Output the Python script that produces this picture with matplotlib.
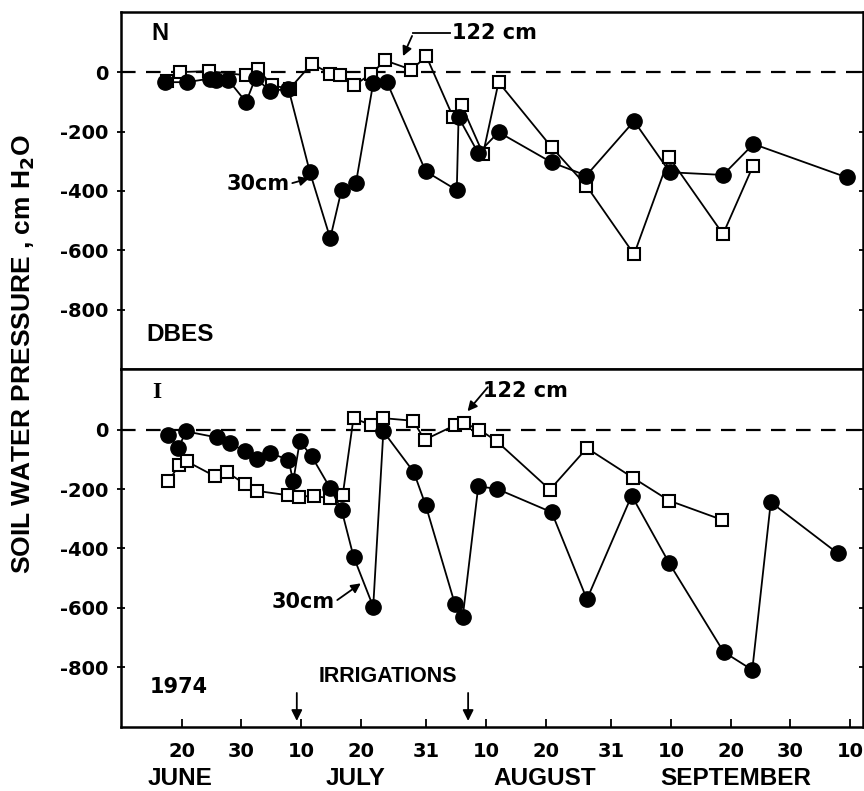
import matplotlib
matplotlib.use("Agg")
import matplotlib.pyplot as plt

# x = day count after 31 May 1974 (June 20 -> 20, July 10 -> 40, Aug 10 -> 71 ...)
n_30_day = [17.2, 20.9, 24.7, 25.7, 27.8, 30.8, 32.4, 34.8, 37.9, 41.5, 44.9, 46.8, 49.2,
            52.1, 54.4, 60.9, 66.1, 66.4, 69.7, 73.1, 82.0, 87.8, 95.8, 101.8, 110.7,
            115.8, 131.4]
n_30_psi = [-34, -34, -22, -26, -26, -101, -19, -64, -56, -337, -559, -396, -374,
            -37, -34, -334, -397, -152, -273, -202, -304, -348, -165, -337, -346,
            -242, -354]
n_122_day = [17.6, 19.8, 24.6, 30.8, 32.8, 35.1, 38.1, 41.8, 44.9, 46.5, 48.9, 51.8, 54.1,
             58.5, 61.0, 65.5, 66.9, 70.5, 73.1, 82.0, 87.8, 95.8, 101.7, 110.7, 115.7]
n_122_psi = [-30, 0, 3, -11, 11, -45, -56, 28, -5, -11, -45, -5, 39,
             8, 53, -152, -112, -275, -34, -253, -382, -613, -287, -545, -317]

i_30_day = [17.8, 19.4, 20.8, 25.9, 28.1, 30.6, 32.6, 34.8, 37.9, 38.7, 39.8, 41.8, 44.9,
            46.8, 48.8, 52.1, 53.8, 58.9, 60.9, 65.8, 67.1, 69.7, 72.8, 82.0, 87.9,
            95.4, 101.7, 110.8, 115.6, 118.7, 129.9]
i_30_psi = [-17, -62, -6, -26, -45, -73, -99, -79, -101, -174, -39, -90, -197,
            -270, -427, -596, -6, -143, -255, -588, -630, -191, -199, -278, -571,
            -222, -450, -748, -809, -244, -416]
i_122_day = [17.8, 19.6, 20.9, 25.6, 27.6, 30.6, 32.6, 37.9, 39.7, 42.1, 44.9, 47.0, 48.8,
             51.8, 53.7, 58.8, 60.7, 65.8, 67.3, 69.9, 72.8, 81.7, 87.9, 95.7, 101.7, 110.6]
i_122_psi = [-174, -118, -107, -157, -143, -183, -206, -221, -225, -223, -231, -219, 39,
             15, 39, 30, -34, 15, 22, 0, -39, -202, -62, -163, -239, -304]

tick_days = [20, 30, 40, 50, 61, 71, 81, 92, 102, 112, 122, 132]
tick_labels = ["20", "30", "10", "20", "31", "10", "20", "31", "10", "20", "30", "10"]
month_days = [19.7, 49.2, 80.9, 112.9]
month_names = ["JUNE", "JULY", "AUGUST", "SEPTEMBER"]
y_ticks = [-800, -600, -400, -200, 0]
irrigation_days = [39.3, 68.0]

plt.rcParams['lines.scale_dashes'] = False
NUM = dict(family="DejaVu Sans", fontweight="bold")
WORD = dict(family="Liberation Sans", fontweight="bold")

fig = plt.figure(figsize=(8.64, 7.91), dpi=100)
ax1 = fig.add_axes([0.1397, 0.533, 0.8588, 0.4522])
ax2 = fig.add_axes([0.1397, 0.0813, 0.8588, 0.4517], sharex=ax1)


def draw_panel(ax, d30, p30, d122, p122):
    ax.axhline(0, color="black", lw=1.6, dashes=(10.5, 7.5), zorder=1)
    ax.plot(d122, p122, color="black", lw=1.3, marker="s", ms=9, mfc="white",
            mec="black", mew=1.5, zorder=3)
    ax.plot(d30, p30, color="black", lw=1.3, marker="o", ms=11, mfc="black",
            mec="black", zorder=4)
    ax.set_ylim(-1000, 203)
    ax.set_yticks(y_ticks)
    ax.set_yticklabels(["0" if v == 0 else "-%d" % -v for v in y_ticks], fontsize=14, **NUM)
    ax.tick_params(axis="y", direction="inout", length=6, width=1.3, pad=6,
                   left=True, right=True)
    for s in ax.spines.values():
        s.set_linewidth(1.8)


draw_panel(ax1, n_30_day, n_30_psi, n_122_day, n_122_psi)
draw_panel(ax2, i_30_day, i_30_psi, i_122_day, i_122_psi)

ax1.set_xlim(9.8, 134.1)
ax2.set_xticks(tick_days)
ax2.set_xticklabels(tick_labels, fontsize=14, **NUM)
ax2.tick_params(axis="x", direction="in", length=6, width=1.3, pad=11)
ax1.tick_params(axis="x", bottom=False, labelbottom=False)

for d, name in zip(month_days, month_names):
    ax2.text(d, -0.146, name, transform=ax2.get_xaxis_transform(),
             ha="center", va="center", fontsize=17.5, **WORD)

# upper panel labels
ax1.text(16.4, 130, "N", ha="center", va="center", fontsize=17, **WORD)
ax1.text(14.1, -881, "DBES", ha="left", va="center", fontsize=17.5, **WORD)
ax1.text(65.3, 130, "122 cm", ha="left", va="center", fontsize=15, **NUM)
ax1.plot([65.0, 58.8], [130, 130], color="black", lw=1.3)
ax1.annotate("", xy=(56.9, 45), xytext=(58.8, 130),
             arrowprops=dict(arrowstyle="-|>", color="black", lw=1.3, mutation_scale=14))
ax1.text(38.1, -376, "30cm", ha="right", va="center", fontsize=15, **NUM)
ax1.annotate("", xy=(41.8, -355), xytext=(38.1, -376),
             arrowprops=dict(arrowstyle="-|>", color="black", lw=1.3, mutation_scale=14))

# lower panel labels
ax2.text(15.8, 124, "I", ha="center", va="center", fontsize=17,
         family="Liberation Serif", fontweight="bold")
ax2.text(14.7, -866, "1974", ha="left", va="center", fontsize=15, **NUM)
ax2.text(70.5, 129, "122 cm", ha="left", va="center", fontsize=15, **NUM)
ax2.annotate("", xy=(67.6, 55), xytext=(71.6, 150),
             arrowprops=dict(arrowstyle="-|>", color="black", lw=1.3, mutation_scale=14))
ax2.text(45.7, -579, "30cm", ha="right", va="center", fontsize=15, **NUM)
ax2.annotate("", xy=(50.4, -512), xytext=(45.7, -579),
             arrowprops=dict(arrowstyle="-|>", color="black", lw=1.3, mutation_scale=14))
ax2.text(54.5, -832, "IRRIGATIONS", ha="center", va="center", fontsize=15.5, **WORD)
for d in irrigation_days:
    ax2.annotate("", xy=(d, -990), xytext=(d, -877),
                 arrowprops=dict(arrowstyle="-|>", color="black", lw=1.3, mutation_scale=16))

fig.text(0.028, 0.552, r"SOIL WATER PRESSURE , cm H$_\mathbf{2}$O", rotation=90,
         ha="center", va="center", fontsize=19, **WORD)

fig.savefig("out.png", dpi=100)
